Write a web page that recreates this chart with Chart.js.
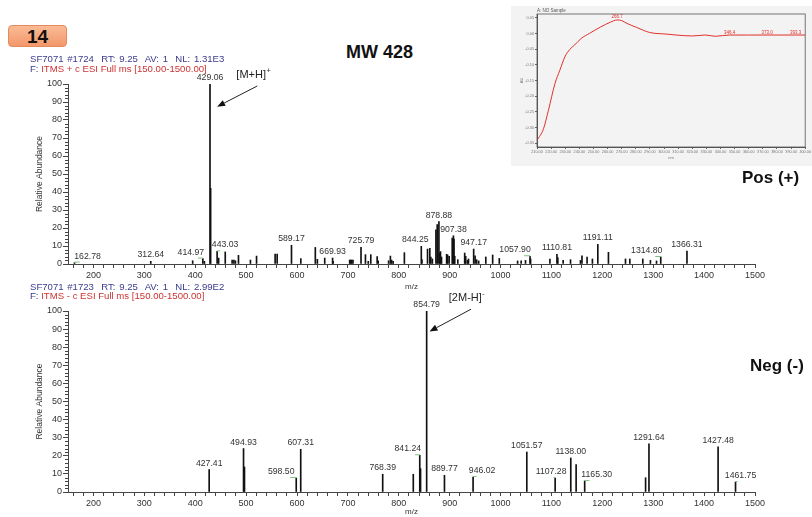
<!DOCTYPE html>
<html>
<head>
<meta charset="utf-8">
<title>SF7071 ESI-MS</title>
<script src="https://cdn.jsdelivr.net/npm/chart.js@4.4.1/dist/chart.umd.min.js"></script>
<style>
  html, body { margin: 0; padding: 0; background: #fff; }
  body { position: relative; width: 812px; height: 517px; overflow: hidden;
         font-family: 'Liberation Sans', Arial, sans-serif; }
  canvas, .txt, .panel { position: absolute; }
  .txt { white-space: nowrap; line-height: 1; z-index: 5; }
  .badge { left: 8px; top: 25px; width: 59px; height: 22px; border-radius: 4px; box-sizing: border-box;
           background: linear-gradient(#fabb95, #f3976b); border: 1px solid #e58a5d;
           font-weight: bold; font-size: 19px; line-height: 21px; text-align: center; color: #111; }
  .hdr { font-size: 9.6px; color: #3b3b8e; word-spacing: 1px; }
  .flt { font-size: 9.6px; color: #cc3333; }
  .flt span { color: #3b3b8e; }
  .big { font-weight: bold; color: #111; }
  .panel { left: 511px; top: 6px; width: 301px; height: 160px; background: #f3f3f3; }
</style>
</head>
<body>
<div class="panel"></div>
<canvas id="uv" width="301" height="162" style="left:511px; top:5px;"></canvas>
<canvas id="pos" width="812" height="230" style="left:0; top:62px;"></canvas>
<canvas id="neg" width="812" height="225" style="left:0; top:292px;"></canvas>

<div class="txt badge">14</div>
<div class="txt big" style="left:346px; top:43px; font-size:18px;">MW 428</div>
<div class="txt big" style="left:742px; top:169px; font-size:17px;">Pos (+)</div>
<div class="txt big" style="left:750px; top:357px; font-size:17px;">Neg (-)</div>

<div class="txt hdr" style="left:30px; top:54px;">SF7071 #1724&nbsp; RT: 9.25&nbsp; AV: 1&nbsp; NL: 1.31E3</div>
<div class="txt flt" style="left:30px; top:64px;"><span>F:</span> ITMS + c ESI Full ms [150.00-1500.00]</div>
<div class="txt hdr" style="left:30px; top:282px;">SF7071 #1723&nbsp; RT: 9.25&nbsp; AV: 1&nbsp; NL: 2.99E2</div>
<div class="txt flt" style="left:30px; top:291px;"><span>F:</span> ITMS - c ESI Full ms [150.00-1500.00]</div>

<script>
// positive mode: labelled peaks
const posLabelMz = [162.78, 312.64, 414.97, 429.06, 443.03, 589.17, 669.93, 725.79, 844.25,
  878.88, 907.38, 947.17, 1057.90, 1110.81, 1191.11, 1314.80, 1366.31];
const posLabelAbund = [0.8, 1.5, 3.0, 100, 7.0, 10.4, 3.3, 9.2, 9.8,
  23.5, 15.7, 8.3, 4.3, 5.4, 10.9, 3.9, 7.2];

// positive mode: unlabelled peaks
const posMinorMz = [395, 418, 430.3, 446, 459, 472.5, 476, 479, 485, 508.5,
  520.5, 557, 561, 607.5, 636, 640, 654.5, 671, 703.5, 705.5,
  707.5, 710, 734.5, 740, 745, 757.5, 759.5, 780, 783.5, 786,
  789, 811, 845.5, 856.5, 861, 863, 866, 873, 875.5, 880,
  882, 884, 894, 896, 899, 905, 908.5, 910, 916, 929.5,
  931.5, 935, 937, 950, 953, 957, 971, 984.5, 997.5, 1033.5,
  1040.5, 1049, 1059, 1097, 1112.5, 1123, 1137.5, 1157, 1160, 1170,
  1180.5, 1212, 1245.5, 1254, 1279.5, 1294.5, 1306.5];
const posMinorAbund = [1.8, 1.5, 42, 3.3, 6.7, 2.2, 2.2, 1.8, 4.8, 2.2,
  4.4, 5.5, 5.5, 3.0, 9.2, 2.6, 3.3, 1.5, 2.2, 2.2,
  2.2, 2.2, 5.2, 1.5, 5.2, 4.1, 1.8, 1.8, 4.4, 2.2,
  1.5, 6.3, 2.4, 8.3, 8.7, 3.9, 2.8, 19, 21.9, 6.1,
  6.9, 3.9, 5.4, 5, 4.3, 14.4, 13.9, 4.3, 2.4, 6.1,
  4.3, 2, 2.8, 4.6, 2.4, 1.7, 3.9, 5, 3.1, 1.7,
  1.7, 2, 2.8, 2.8, 3.5, 2, 2.4, 2, 4.6, 3.9,
  2.8, 6.5, 2.8, 2.8, 2.8, 2, 1.7];

// negative mode
const negLabelMz = [427.41, 494.93, 598.50, 607.31, 768.39, 841.24, 854.79, 889.77,
  946.02, 1051.57, 1107.28, 1138.00, 1165.30, 1291.64, 1427.48, 1461.75];
const negLabelAbund = [12.4, 24.0, 7.7, 23.6, 9.8, 20.3, 100, 9.2,
  8.3, 22.1, 7.7, 18.8, 6.1, 26.6, 24.9, 5.5];
const negMinorMz = [496.8, 828.5, 842.8, 1148.5, 1285];
const negMinorAbund = [13.8, 9.8, 12.9, 15.1, 7.9];

// m/z axis ticks
const mzTickStep = 20;
const mzLabelStep = 100;

// UV trace for the inset
const uvNm = [210, 214.6, 218.1, 222.7, 226.2, 229.7, 233.2, 236.6, 241.3, 247.1,
  255.2, 262.1, 266.7, 270, 273.7, 280.7, 289.9, 301.5, 308.5, 320.1,
  329.3, 336.3, 346.4, 360, 373.0, 383, 393.3, 400];
const uvAbs = [-0.341, -0.304, -0.245, -0.160, -0.117, -0.075, -0.051, -0.037, -0.016, 0.0,
  0.021, 0.036, 0.043, 0.041, 0.032, 0.019, 0.003, -0.002, -0.005, -0.008,
  -0.005, -0.009, -0.005, -0.005, -0.005, -0.005, -0.005, -0.005];
const uvPeakNm = [266.7, 346.4, 373.0, 393.3];

const FONT = '"Liberation Sans", Arial, sans-serif';
Chart.defaults.font.family = FONT;
Chart.defaults.color = '#333';

function toPoints(xs, ys) {
  return xs.map((v, i) => ({ x: v, y: ys[i] }));
}

// labels, leader lines, minor ticks and the ion arrow for one spectrum
function spectrumMarks(cfg) {
  return {
    id: 'spectrumMarks',
    afterDatasetsDraw(chart) {
      const { ctx, chartArea, scales: { x, y } } = chart;
      ctx.save();

      ctx.strokeStyle = '#444';
      ctx.lineWidth = 1;
      ctx.beginPath();
      for (let v = 2; v < 100; v += 2) {
        if (v % 10 === 0) continue;
        const py = Math.round(y.getPixelForValue(v)) + 0.5;
        ctx.moveTo(chartArea.left - 3, py);
        ctx.lineTo(chartArea.left, py);
      }
      ctx.stroke();

      ctx.font = '8.7px ' + FONT;
      ctx.textAlign = 'center';
      ctx.textBaseline = 'bottom';
      cfg.mz.forEach((m, i) => {
        const text = m.toFixed(2);
        const px = x.getPixelForValue(m);
        const top = y.getPixelForValue(cfg.abund[i]);
        const dx = cfg.nudge[text] || 0;
        const ly = top - 2;
        ctx.fillStyle = '#333';
        ctx.fillText(text, px + dx, ly);
        if (cfg.leaders.includes(text)) {
          ctx.strokeStyle = '#7cc47c';
          ctx.beginPath();
          ctx.moveTo(px + dx * 0.4, ly + 1.5);
          ctx.lineTo(px, ly + 1.5);
          ctx.lineTo(px, top);
          ctx.stroke();
        }
      });

      const a = cfg.arrow;
      const x0 = x.getPixelForValue(a.from[0]), y0 = y.getPixelForValue(a.from[1]);
      const x1 = x.getPixelForValue(a.to[0]), y1 = y.getPixelForValue(a.to[1]);
      const ang = Math.atan2(y1 - y0, x1 - x0);
      const head = 8, wing = 3.2;
      const bx = x1 - head * Math.cos(ang), by = y1 - head * Math.sin(ang);
      ctx.strokeStyle = '#222';
      ctx.beginPath();
      ctx.moveTo(x0, y0);
      ctx.lineTo(bx, by);
      ctx.stroke();
      ctx.fillStyle = '#111';
      ctx.beginPath();
      ctx.moveTo(x1, y1);
      ctx.lineTo(bx - wing * Math.sin(ang), by + wing * Math.cos(ang));
      ctx.lineTo(bx + wing * Math.sin(ang), by - wing * Math.cos(ang));
      ctx.closePath();
      ctx.fill();

      const tx = x.getPixelForValue(a.at[0]), ty = y.getPixelForValue(a.at[1]);
      ctx.textAlign = 'left';
      ctx.textBaseline = 'middle';
      ctx.font = '11px ' + FONT;
      const w = ctx.measureText(a.text).width;
      ctx.font = '7px ' + FONT;
      const sw = ctx.measureText(a.sup).width;
      const sx = tx - (w + sw) / 2;
      ctx.fillStyle = '#222';
      ctx.font = '11px ' + FONT;
      ctx.fillText(a.text, sx, ty);
      ctx.font = '7px ' + FONT;
      ctx.fillText(a.sup, sx + w + 0.5, ty - 4);

      ctx.restore();
    }
  };
}

function spectrum(id, labelMz, labelAbund, minorMz, minorAbund, marks, pad) {
  const peaks = toPoints(labelMz, labelAbund).concat(toPoints(minorMz, minorAbund))
    .sort((p, q) => p.x - q.x);
  return new Chart(document.getElementById(id), {
    type: 'bar',
    data: {
      datasets: [{
        data: peaks,
        backgroundColor: '#111',
        barThickness: 1,
        borderWidth: 0
      }]
    },
    options: {
      animation: false,
      responsive: false,
      layout: { padding: { left: 30, top: pad.top, right: 57, bottom: 0 } },
      plugins: { legend: { display: false }, tooltip: { enabled: false } },
      scales: {
        x: {
          type: 'linear',
          min: 150,
          max: 1500,
          offset: false,
          grid: { drawOnChartArea: false, offset: false, tickLength: 4, color: '#444' },
          border: { color: '#444' },
          ticks: {
            stepSize: mzTickStep,
            includeBounds: false,
            autoSkip: false,
            maxRotation: 0,
            padding: 2,
            font: { size: 9 },
            color: '#333',
            callback: v => (v % mzLabelStep === 0 ? String(v) : '')
          },
          title: { display: true, text: 'm/z', font: { size: 8 }, color: '#333', padding: { top: 0, bottom: 0 } },
          afterFit: s => { s.height = pad.axis; }
        },
        y: {
          min: 0,
          max: 100,
          grid: { drawOnChartArea: false, tickLength: 5, color: '#444' },
          border: { color: '#444' },
          ticks: { stepSize: 10, padding: 1, font: { size: 9 }, color: '#333' },
          title: { display: true, text: 'Relative Abundance', font: { size: 8.5 }, color: '#333', padding: { top: 5, bottom: 0 } },
          afterFit: s => { s.width = 38; }
        }
      }
    },
    plugins: [marks]
  });
}

spectrum('pos', posLabelMz, posLabelAbund, posMinorMz, posMinorAbund, spectrumMarks({
  mz: posLabelMz,
  abund: posLabelAbund,
  nudge: { '162.78': 13, '414.97': -12, '443.03': 8, '844.25': -6, '1057.90': -15, '1314.80': -14 },
  leaders: ['162.78', '414.97', '443.03', '1057.90', '1314.80'],
  arrow: { from: [522, 98.9], to: [443, 87.4], at: [514, 105], text: '[M+H]', sup: '+' }
}), { top: 22, axis: 28 });

spectrum('neg', negLabelMz, negLabelAbund, negMinorMz, negMinorAbund, spectrumMarks({
  mz: negLabelMz,
  abund: negLabelAbund,
  nudge: { '598.50': -15, '841.24': -12, '946.02': 9, '1107.28': -4, '1165.30': 12, '1461.75': 5 },
  leaders: ['598.50', '841.24', '946.02', '1107.28', '1165.30', '1461.75'],
  arrow: { from: [942, 101], to: [860.4, 88.7], at: [933, 107], text: '[2M-H]', sup: '-' }
}), { top: 19, axis: 25 });

// inset: frame, caption and wavelength labels
const uvMarks = {
  id: 'uvMarks',
  afterDatasetsDraw(chart) {
    const { ctx, chartArea: a, scales: { x, y } } = chart;
    ctx.save();
    ctx.strokeStyle = '#555';
    ctx.lineWidth = 0.8;
    ctx.strokeRect(a.left, a.top, a.right - a.left, a.bottom - a.top);
    ctx.fillStyle = '#555';
    ctx.font = '4.5px ' + FONT;
    ctx.textAlign = 'left';
    ctx.textBaseline = 'bottom';
    ctx.fillText('A: NO Sample', a.left, a.top - 0.5);
    ctx.fillStyle = '#e0302c';
    ctx.textAlign = 'center';
    uvPeakNm.forEach(nm => {
      const i = uvNm.indexOf(nm);
      ctx.fillText(nm.toFixed(1), x.getPixelForValue(nm), y.getPixelForValue(uvAbs[i]) - 0.5);
    });
    ctx.restore();
  }
};

new Chart(document.getElementById('uv'), {
  type: 'line',
  data: {
    datasets: [{
      data: toPoints(uvNm, uvAbs),
      borderColor: '#e0302c',
      borderWidth: 1,
      pointRadius: 0,
      cubicInterpolationMode: 'monotone',
      fill: false
    }]
  },
  options: {
    animation: false,
    responsive: false,
    layout: { padding: { left: 0, top: 9, right: 2, bottom: 0 } },
    plugins: { legend: { display: false }, tooltip: { enabled: false } },
    scales: {
      x: {
        type: 'linear',
        min: 210,
        max: 400,
        grid: { drawOnChartArea: false, tickLength: 2, color: '#666' },
        border: { color: '#555' },
        ticks: { stepSize: 10, autoSkip: false, maxRotation: 0, padding: 1, font: { size: 3.8 }, color: '#777',
                 callback: v => v.toFixed(2) },
        title: { display: true, text: 'nm', font: { size: 4 }, color: '#777', padding: { top: 0, bottom: 7 } },
        afterFit: s => { s.height = 20; }
      },
      y: {
        min: -0.362,
        max: 0.062,
        grid: { drawOnChartArea: false, tickLength: 2, color: '#666' },
        border: { color: '#555' },
        ticks: { stepSize: 0.05, includeBounds: false, padding: 1, font: { size: 3.8 }, color: '#777',
                 callback: v => (Math.abs(v) < 1e-9 ? '0.00' : v.toFixed(2)) },
        title: { display: true, text: 'AU', font: { size: 4 }, color: '#777', padding: { top: 8, bottom: 0 } },
        afterFit: s => { s.width = 26; }
      }
    }
  },
  plugins: [uvMarks]
});
</script>
</body>
</html>
